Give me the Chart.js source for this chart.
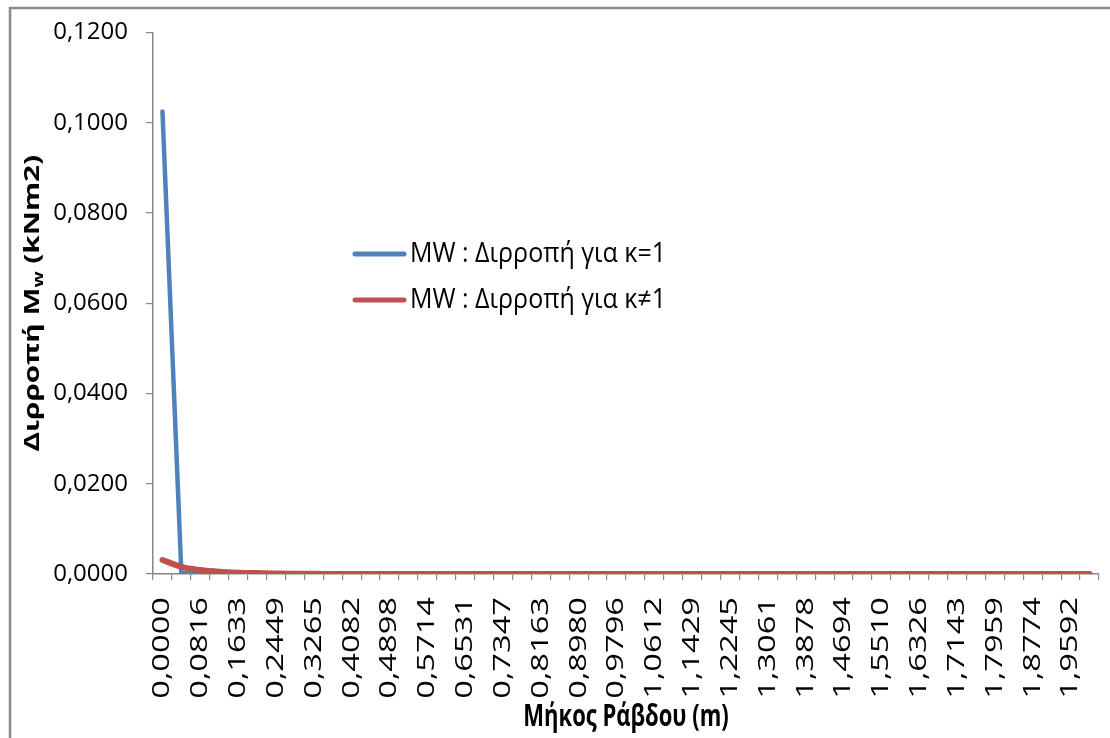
<!DOCTYPE html>
<html>
<head>
<meta charset="utf-8">
<script src="https://cdn.jsdelivr.net/npm/chart.js@4"></script>
<style>
  html, body { margin: 0; padding: 0; background: #ffffff; overflow: hidden; }
  #wrap { position: relative; width: 1110px; height: 738px; }
</style>
</head>
<body>
<div id="wrap"><canvas id="chart" width="1110" height="738"></canvas></div>
<script>
// Rod length positions (m)
const categories = [
  '0,0000','0,0408','0,0816','0,1224','0,1633','0,2041','0,2449','0,2857','0,3265','0,3673',
  '0,4082','0,4490','0,4898','0,5306','0,5714','0,6122','0,6531','0,6939','0,7347','0,7755',
  '0,8163','0,8571','0,8980','0,9388','0,9796','1,0204','1,0612','1,1020','1,1429','1,1837',
  '1,2245','1,2653','1,3061','1,3469','1,3878','1,4286','1,4694','1,5102','1,5510','1,5918',
  '1,6326','1,6735','1,7143','1,7551','1,7959','1,8367','1,8774','1,9184','1,9592','2,0000'
];

const seriesNames = ['MW : Διρροπή για κ=1', 'MW : Διρροπή για κ≠1'];

// Bimoment Mw (kNm2) for κ = 1
const bimomentK1 = [
  0.1025, 0.0002, 0, 0, 0, 0, 0, 0, 0, 0,
  0, 0, 0, 0, 0, 0, 0, 0, 0, 0,
  0, 0, 0, 0, 0, 0, 0, 0, 0, 0,
  0, 0, 0, 0, 0, 0, 0, 0, 0, 0,
  0, 0, 0, 0, 0, 0, 0, 0, 0, 0
];

// Bimoment Mw (kNm2) for κ ≠ 1
const bimomentKn1 = [
  0.0031, 0.0016, 0.0009, 0.0005, 0.0003, 0.0002, 0.0001, 0.00005, 0.00003, 0.00002,
  0.00001, 0, 0, 0, 0, 0, 0, 0, 0, 0,
  0, 0, 0, 0, 0, 0, 0, 0, 0, 0,
  0, 0, 0, 0, 0, 0, 0, 0, 0, 0,
  0, 0, 0, 0, 0, 0, 0, 0, 0, 0
];

const yMin = 0, yMax = 0.12, yStep = 0.02;
const xTitle = 'Μήκος Ράβδου (m)';
const yTitleParts = ['Διρροπή M', 'w', ' (kNm2)'];

const axisColor = '#868686';
const blue = '#4F81BD';
const red = '#C0504D';

const fmt = v => Number(v).toFixed(4).replace('.', ',');

// Outer frame of the chart area
const framePlugin = {
  id: 'frame',
  beforeDraw(chart) {
    const ctx = chart.ctx;
    ctx.save();
    ctx.strokeStyle = '#8c8c8c';
    ctx.lineWidth = 2.5;
    ctx.strokeRect(10, 8, chart.width + 20, chart.height + 20);
    ctx.restore();
  }
};

// Vertical axis title with a subscript
const yTitlePlugin = {
  id: 'yTitle',
  afterDraw(chart) {
    const ctx = chart.ctx;
    const area = chart.chartArea;
    const cy = (area.top + area.bottom) / 2;
    const big = 'bold 22px "Open Sans", sans-serif';
    const small = 'bold 14px "Open Sans", sans-serif';
    const stretch = 1.35;
    ctx.save();
    ctx.fillStyle = '#000';
    ctx.textBaseline = 'alphabetic';
    ctx.font = big; const w0 = ctx.measureText(yTitleParts[0]).width;
    ctx.font = small; const w1 = ctx.measureText(yTitleParts[1]).width;
    ctx.font = big; const w2 = ctx.measureText(yTitleParts[2]).width;
    const total = w0 + w1 + w2;
    ctx.translate(39, cy);
    ctx.rotate(-Math.PI / 2);
    ctx.scale(stretch, 1);
    let x = -total / 2;
    ctx.font = big; ctx.fillText(yTitleParts[0], x, 0); x += w0;
    ctx.font = small; ctx.fillText(yTitleParts[1], x, 4); x += w1;
    ctx.font = big; ctx.fillText(yTitleParts[2], x, 0);
    ctx.restore();
  }
};

// Rotated category labels (every second one) and the horizontal axis title
const xLabelsPlugin = {
  id: 'xLabels',
  afterDraw(chart) {
    const ctx = chart.ctx;
    const scale = chart.scales.x;
    const top = chart.chartArea.bottom + 23;
    ctx.save();
    ctx.fillStyle = '#000';
    ctx.font = '24px "Open Sans", sans-serif';
    ctx.textAlign = 'right';
    ctx.textBaseline = 'middle';
    categories.forEach((lab, i) => {
      if (i % 2 !== 0) return;
      const x = scale.getPixelForTick(i);
      ctx.save();
      ctx.translate(x, top);
      ctx.rotate(-Math.PI / 2);
      ctx.scale(1.36, 1);
      ctx.fillText(lab, 0, 0);
      ctx.restore();
    });
    const cx = (chart.chartArea.left + chart.chartArea.right) / 2;
    ctx.font = 'bold 22px "Open Sans", sans-serif';
    ctx.textAlign = 'center';
    ctx.textBaseline = 'middle';
    ctx.translate(cx, 718);
    ctx.scale(1, 1.35);
    ctx.fillText(xTitle, 0, 0);
    ctx.restore();
  }
};

// Legend drawn inside the plot
const legendPlugin = {
  id: 'innerLegend',
  afterDraw(chart) {
    const ctx = chart.ctx;
    const x0 = 355, x1 = 404, tx = 410;
    const rows = [254, 300];
    ctx.save();
    chart.data.datasets.forEach((ds, i) => {
      const y = rows[i];
      ctx.strokeStyle = ds.borderColor;
      ctx.lineWidth = 5;
      ctx.lineCap = 'round';
      ctx.beginPath(); ctx.moveTo(x0, y); ctx.lineTo(x1, y); ctx.stroke();
      ctx.fillStyle = '#000';
      ctx.font = '25px "Open Sans", sans-serif';
      ctx.textBaseline = 'middle';
      ctx.textAlign = 'left';
      ctx.save();
      ctx.translate(tx, y);
      ctx.scale(1, 1.12);
      ctx.fillText(ds.label, 0, 0);
      ctx.restore();
    });
    ctx.restore();
  }
};

new Chart(document.getElementById('chart'), {
  type: 'line',
  data: {
    labels: categories,
    datasets: [
      {
        label: seriesNames[0],
        data: bimomentK1,
        borderColor: blue,
        backgroundColor: blue,
        borderWidth: 4.5,
        pointRadius: 0,
        tension: 0,
        fill: false,
        borderCapStyle: 'round',
        borderJoinStyle: 'round',
        order: 1
      },
      {
        label: seriesNames[1],
        data: bimomentKn1,
        borderColor: red,
        backgroundColor: red,
        borderWidth: 6,
        pointRadius: 0,
        tension: 0.3,
        cubicInterpolationMode: 'monotone',
        fill: false,
        borderCapStyle: 'round',
        borderJoinStyle: 'round',
        order: 0
      }
    ]
  },
  options: {
    responsive: false,
    animation: false,
    devicePixelRatio: 1,
    layout: { padding: { left: 0, right: 11, top: 30, bottom: 0 } },
    plugins: {
      legend: { display: false },
      tooltip: { enabled: false }
    },
    scales: {
      x: {
        type: 'category',
        offset: true,
        grid: {
          offset: true,
          drawOnChartArea: false,
          drawTicks: true,
          tickLength: 6,
          color: axisColor,
          lineWidth: 1.2
        },
        border: { color: axisColor, width: 1.5 },
        ticks: {
          display: false,
          autoSkip: false
        },
        title: { display: false },
        afterFit(s) { s.height = 164; s.paddingLeft = 0; s.paddingRight = 0; }
      },
      y: {
        min: yMin,
        max: yMax,
        grid: {
          drawOnChartArea: false,
          drawTicks: true,
          tickLength: 7,
          color: axisColor,
          lineWidth: 1.2
        },
        border: { color: axisColor, width: 1.5 },
        ticks: {
          stepSize: yStep,
          padding: 18,
          color: '#000',
          font: { family: '"Open Sans", sans-serif', size: 24 },
          callback: v => fmt(v)
        },
        afterFit(s) { s.width = 153; }
      }
    }
  },
  plugins: [framePlugin, yTitlePlugin, xLabelsPlugin, legendPlugin]
});
</script>
</body>
</html>
